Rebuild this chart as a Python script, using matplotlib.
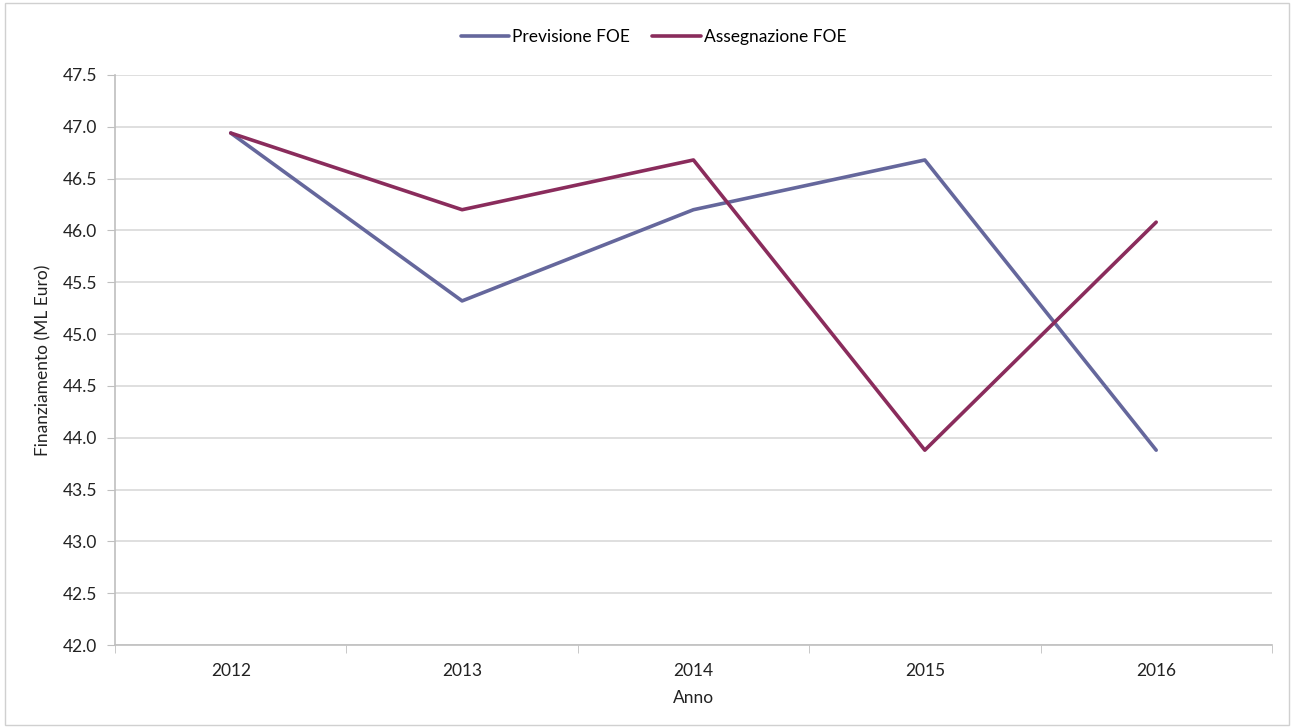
import matplotlib.pyplot as plt
from matplotlib.patches import Rectangle
import numpy as np

plt.rcParams['font.family'] = ['Lato', 'DejaVu Sans']

anni = ['2012', '2013', '2014', '2015', '2016']
previsione = [46.94, 45.32, 46.20, 46.68, 43.88]
assegnazione = [46.94, 46.20, 46.68, 43.88, 46.08]

fig = plt.figure(figsize=(12.94, 7.28), dpi=100)
ax = fig.add_axes([0.0889, 0.114, 0.894, 0.783])

x = np.arange(len(anni))
ax.plot(x, previsione, color='#65679C', lw=2.6, label='Previsione FOE', solid_capstyle='round')
ax.plot(x, assegnazione, color='#8A2C5C', lw=2.6, label='Assegnazione FOE', solid_capstyle='round')

ax.set_xlim(-0.5, len(anni) - 0.5)
ax.set_ylim(42.0, 47.5)
ax.set_yticks(np.arange(42.0, 47.51, 0.5))
ax.set_yticklabels([f'{v:.1f}' for v in np.arange(42.0, 47.51, 0.5)])
ax.set_xticks(x)
ax.set_xticklabels(anni)
ax.set_xticks(np.arange(-0.5, len(anni), 1.0), minor=True)
ax.tick_params(axis='x', which='major', length=0, pad=13, labelsize=12.5, colors='#222222')
ax.tick_params(axis='x', which='minor', length=6, color='#BFBFBF')
ax.tick_params(axis='y', length=6, color='#BFBFBF', labelsize=12.5, labelcolor='#222222', pad=7)

ax.grid(axis='y', color='#D9D9D9', lw=1.2)
ax.set_axisbelow(True)
for s in ['top', 'right']:
    ax.spines[s].set_visible(False)
for s in ['left', 'bottom']:
    ax.spines[s].set_color('#BFBFBF')
    ax.spines[s].set_linewidth(1.2)

ax.set_ylabel('Finanziamento (ML Euro)', fontsize=12.5, color='#222222', labelpad=8)
ax.set_xlabel('Anno', fontsize=12.5, color='#222222', labelpad=8)

fig.legend(loc='center', bbox_to_anchor=(0.505, 0.949), ncol=2, frameon=False,
           fontsize=12.5, handlelength=2.8, columnspacing=1.3, handletextpad=0.15)

fig.patches.append(Rectangle((0.004, 0.004), 0.992, 0.992, transform=fig.transFigure,
                             fill=False, edgecolor='#D0D0D0', lw=1))

fig.savefig('out.png', dpi=100, facecolor='white')
